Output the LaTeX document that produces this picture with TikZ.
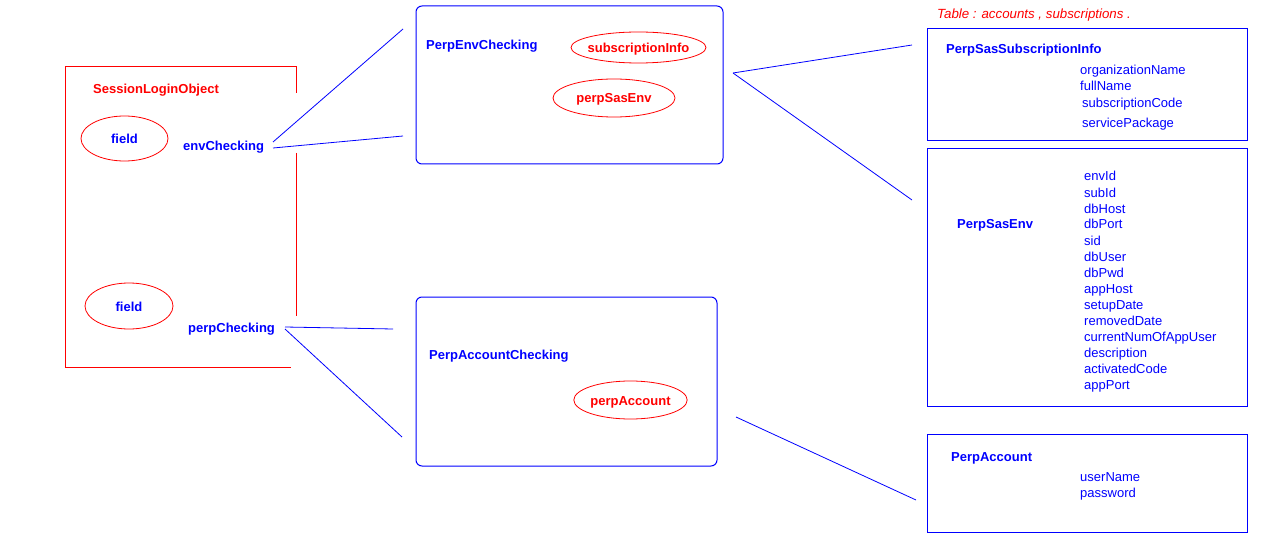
\documentclass[tikz,border=0pt]{standalone}
\usepackage{fontspec}
\setmainfont{Liberation Sans}
\usetikzlibrary{shapes.geometric}
\begin{document}
\begin{tikzpicture}[x=1pt, y=-1pt]
    \tikzstyle{every node} = [font=\fontsize{13}{15}\selectfont, inner sep=0pt]
    \tikzstyle{cls} = [text=blue, font=\fontsize{13}{15}\selectfont\bfseries, anchor=west, text height=11pt, text depth=1pt]
    \tikzstyle{attr} = [text=blue, anchor=west, text height=11pt, text depth=1pt]
    \tikzstyle{obj} = [draw=red, line width=0.8pt, ellipse, text=red, font=\fontsize{13}{15}\selectfont\bfseries, text height=11pt, text depth=1pt]
    \tikzstyle{rbox} = [draw=blue, line width=1pt, rounded corners=6pt]
    \tikzstyle{tbox} = [draw=blue, line width=1pt, minimum width=320]
    \tikzstyle{link} = [blue, line width=0.8pt]
    \useasboundingbox (0,0) rectangle (1279,556);
    % session object
    \draw[red, line width=1pt] (296,93) -- (296,67) -- (65,67) -- (65,367) -- (291,367);
    \draw[red, line width=1pt] (296,153) -- (296,316);
    \node[anchor=west, text=red, font=\fontsize{13}{15}\selectfont\bfseries, text height=11pt, text depth=1pt] (slo) at (93,89) {SessionLoginObject};
    \node[obj, text=blue, minimum width=87, minimum height=45] (fld1) at (124.5,138.5) {field};
    \node[obj, text=blue, minimum width=88, minimum height=46] (fld2) at (129,306) {field};
    \node[cls] (envchk) at (183,146) {envChecking};
    \node[cls] (perpchk) at (188,327) {perpChecking};
    % checking objects
    \node[rbox, minimum width=307, minimum height=158] (envbox) at (569.5,85) {};
    \node[cls] (envname) at (426,45) {PerpEnvChecking};
    \node[obj, inner xsep=-5pt, minimum width=135, minimum height=31] (subinfo) at (638.5,47.5) {subscriptionInfo};
    \node[obj, minimum width=122, minimum height=38] (sasenv) at (614,98) {perpSasEnv};
    \node[rbox, minimum width=301, minimum height=169] (accbox) at (566.5,381.5) {};
    \node[cls] (accname) at (429,354) {PerpAccountChecking};
    \node[obj, minimum width=113, minimum height=38] (perpacc) at (630.5,400) {perpAccount};
    % tables
    \node[anchor=west, text=red, font=\fontsize{13.3}{15}\selectfont\itshape, text height=11pt, text depth=1pt] (tbl) at (937,14) {Table : accounts , subscriptions .};
    \node[tbox, minimum height=112] (subbox) at (1087,85) {};
    \node[cls] (subname) at (946,49) {PerpSasSubscriptionInfo};
    \node[attr] (a1) at (1080,70) {organizationName};
    \node[attr] (a2) at (1080,86) {fullName};
    \node[attr] (a3) at (1082,103) {subscriptionCode};
    \node[attr] (a4) at (1082,123) {servicePackage};
    \node[tbox, minimum height=257] (envtbl) at (1087,277.5) {};
    \node[cls] (envtname) at (957,223) {PerpSasEnv};
    \node[attr] (e1) at (1084,176) {envId};
    \node[attr] (e2) at (1084,192) {subId};
    \node[attr] (e3) at (1084,208) {dbHost};
    \node[attr] (e4) at (1084,224) {dbPort};
    \node[attr] (e5) at (1084,240) {sid};
    \node[attr] (e6) at (1084,256) {dbUser};
    \node[attr] (e7) at (1084,272) {dbPwd};
    \node[attr] (e8) at (1084,288) {appHost};
    \node[attr] (e9) at (1084,304) {setupDate};
    \node[attr] (e10) at (1084,320) {removedDate};
    \node[attr] (e11) at (1084,336) {currentNumOfAppUser};
    \node[attr] (e12) at (1084,352) {description};
    \node[attr] (e13) at (1084,368) {activatedCode};
    \node[attr] (e14) at (1084,384) {appPort};
    \node[tbox, minimum height=98] (acctbl) at (1087,483) {};
    \node[cls] (acctname) at (951,456) {PerpAccount};
    \node[attr] (u1) at (1080,476) {userName};
    \node[attr] (u2) at (1080,492) {password};
    % connector ends
    \coordinate (envA) at (273,142);
    \coordinate (envB) at (273,148);
    \coordinate (envTop) at (403,29);
    \coordinate (envBot) at (403,136);
    \coordinate (perpA) at (285,327);
    \coordinate (perpB) at (285,329);
    \coordinate (accTop) at (393,329);
    \coordinate (accBot) at (402,437);
    \coordinate (envR) at (733,73);
    \coordinate (subL) at (912,45);
    \coordinate (sasL) at (912,200);
    \coordinate (accR) at (736,417);
    \coordinate (acctL) at (916,500);
    \draw[link] (envA) -- (envTop);
    \draw[link] (envB) -- (envBot);
    \draw[link] (perpA) -- (accTop);
    \draw[link] (perpB) -- (accBot);
    \draw[link] (envR) -- (subL);
    \draw[link] (envR) -- (sasL);
    \draw[link] (accR) -- (acctL);
\end{tikzpicture}
\end{document}
